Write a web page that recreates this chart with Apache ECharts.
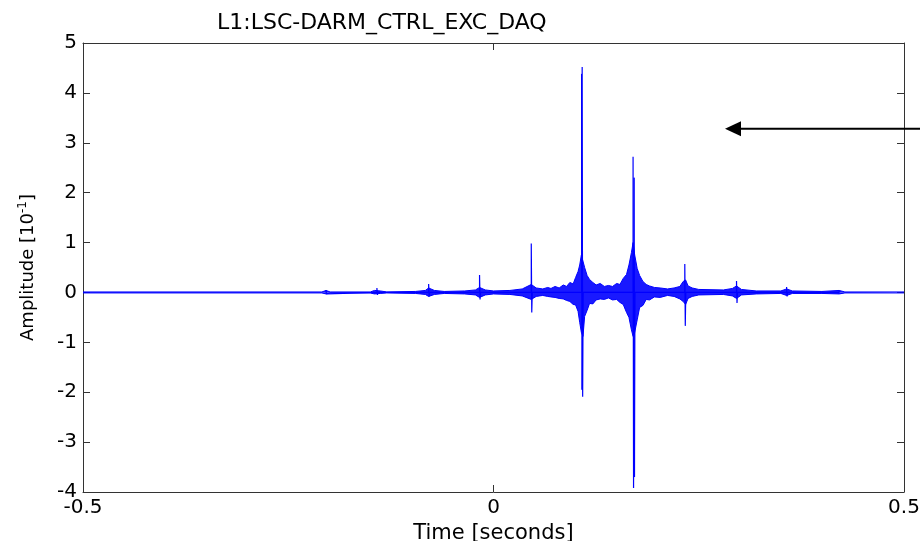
<!DOCTYPE html>
<html>
<head>
<meta charset="utf-8">
<script src="https://cdn.jsdelivr.net/npm/echarts@6/dist/echarts.min.js"></script>
<style>
  html, body { margin: 0; padding: 0; background: #fff; }
  #chart { width: 920px; height: 541px; }
</style>
</head>
<body>
<div id="chart"></div>
<script>
// signal envelope (noise band around zero), time in seconds, amplitude in 10^-1
const envT  = [-0.5, -0.209, -0.204, -0.199, -0.150, -0.145, -0.138, -0.130, -0.095, -0.083, -0.079, -0.072, -0.060, -0.035, -0.022, -0.017, -0.010, 0.000, 0.020, 0.035, 0.046, 0.052,
  0.060, 0.066, 0.070, 0.075, 0.080, 0.085, 0.089, 0.093, 0.097, 0.100, 0.103, 0.105, 0.107, 0.109, 0.111, 0.114, 0.117, 0.121, 0.125, 0.130, 0.135, 0.140, 0.145, 0.150, 0.154, 0.158,
  0.162, 0.165, 0.168, 0.170, 0.172, 0.175, 0.178, 0.182, 0.186, 0.190, 0.196, 0.203, 0.212, 0.220, 0.227, 0.231, 0.234, 0.237, 0.242, 0.250,
  0.280, 0.291, 0.296, 0.302, 0.320, 0.350, 0.357, 0.364, 0.400, 0.421, 0.428, 0.5];
const envHi = [0.01, 0.01, 0.04, 0.01, 0.01, 0.04, 0.03, 0.01, 0.02, 0.04, 0.09, 0.04, 0.02, 0.03, 0.05, 0.10, 0.05, 0.03, 0.04, 0.07, 0.16, 0.09,
  0.07, 0.10, 0.08, 0.12, 0.09, 0.15, 0.12, 0.20, 0.17, 0.30, 0.42, 0.55, 0.75, 0.72, 0.50, 0.34, 0.26, 0.20, 0.15, 0.18, 0.12, 0.14, 0.12, 0.18, 0.16, 0.28,
  0.36, 0.55, 0.80, 1.00, 0.75, 0.48, 0.34, 0.22, 0.16, 0.13, 0.10, 0.09, 0.07, 0.09, 0.12, 0.22, 0.25, 0.13, 0.09, 0.06,
  0.05, 0.08, 0.13, 0.06, 0.03, 0.03, 0.07, 0.03, 0.02, 0.04, 0.01, 0.01];
const envLo = [-0.01, -0.01, -0.03, -0.01, -0.01, -0.03, -0.02, -0.01, -0.02, -0.04, -0.08, -0.04, -0.02, -0.03, -0.05, -0.10, -0.05, -0.03, -0.04, -0.07, -0.14, -0.08,
  -0.06, -0.08, -0.09, -0.10, -0.12, -0.13, -0.16, -0.18, -0.24, -0.25, -0.38, -0.60, -0.80, -0.88, -0.48, -0.36, -0.22, -0.23, -0.15, -0.13, -0.14, -0.11, -0.15, -0.14, -0.20, -0.24,
  -0.40, -0.50, -0.75, -0.88, -0.80, -0.55, -0.30, -0.26, -0.14, -0.15, -0.09, -0.10, -0.06, -0.08, -0.13, -0.18, -0.24, -0.12, -0.08, -0.05,
  -0.04, -0.07, -0.12, -0.05, -0.03, -0.02, -0.06, -0.02, -0.02, -0.03, -0.01, -0.01];

// injection spikes
const spikeT  = [-0.204, -0.142, -0.079, -0.017, 0.046, 0.108, 0.170, 0.233, 0.296, 0.357, 0.421];
const spikeHi = [0.05, 0.09, 0.17, 0.35, 0.98, 4.52, 2.72, 0.57, 0.23, 0.11, 0.04];
const spikeLo = [-0.03, -0.05, -0.08, -0.14, -0.40, -2.09, -3.92, -0.67, -0.21, -0.08, -0.03];

// neighbouring samples of the two big spikes
const spike2T  = [0.1072, 0.1712];
const spike2Hi = [4.38, 2.30];
const spike2Lo = [-1.95, -3.70];

const xTicks = [-0.5, 0, 0.5];
const yTicks = [-4, -3, -2, -1, 0, 1, 2, 3, 4, 5];

// arrow annotation (data coords)
const arrowFrom = [0.5195, 3.28];
const arrowTo = [0.282, 3.28];

const BLUE = "#0000ff";
const FONT = "DejaVu Sans";

const envUpper = envT.map((t, i) => [t, envHi[i]]);
const envLower = envT.map((t, i) => [t, envLo[i]]);

const spikeLine = (ts, his, los) => {
  const out = [];
  ts.forEach((t, i) => {
    out.push([t, 0], [t, his[i]], [t + 0.0006, los[i]], [t + 0.0012, 0]);
  });
  return out;
};

const chart = echarts.init(document.getElementById("chart"));

const axisCommon = {
  type: "value",
  axisLine: { show: true, onZero: false, lineStyle: { color: "#333", width: 1 } },
  axisTick: { show: true, inside: true, length: 7, lineStyle: { color: "#333" } },
  splitLine: { show: false },
};

let options = {
  animation: false,
  backgroundColor: "#fff",
  title: {
    text: "L1:LSC-DARM_CTRL_EXC_DAQ",
    left: 212,
    top: 7,
    textStyle: { fontFamily: FONT, fontSize: 22, fontWeight: "normal", color: "#000" },
  },
  grid: {
    left: 83,
    right: 16,
    top: 43,
    bottom: 49,
    containLabel: false,
    outerBoundsMode: "none",
  },
  xAxis: [
    {
      ...axisCommon,
      position: "bottom",
      min: xTicks[0],
      max: xTicks[xTicks.length - 1],
      interval: 0.5,
      axisLabel: { fontFamily: FONT, fontSize: 20, color: "#000", margin: 6 },
      name: "Time [seconds]",
      nameLocation: "middle",
      nameGap: 26,
      nameTextStyle: { fontFamily: FONT, fontSize: 21, color: "#000" },
    },
    {
      ...axisCommon,
      position: "top",
      min: xTicks[0],
      max: xTicks[xTicks.length - 1],
      interval: 0.5,
      axisLabel: { show: false },
    },
  ],
  yAxis: [
    {
      ...axisCommon,
      position: "left",
      min: yTicks[0],
      max: yTicks[yTicks.length - 1],
      interval: 1,
      axisLabel: { fontFamily: FONT, fontSize: 20, color: "#000", margin: 6 },
      name: "{a|Amplitude [10}{s|-1}{a|]}",
      nameLocation: "middle",
      nameRotate: 90,
      nameGap: 44,
      nameTextStyle: {
        rich: {
          a: { fontFamily: FONT, fontSize: 18, color: "#000", lineHeight: 22 },
          s: { fontFamily: FONT, fontSize: 12, color: "#000", verticalAlign: "top", lineHeight: 22, padding: [0, 0, 8, 0] },
        },
      },
    },
    {
      ...axisCommon,
      position: "right",
      min: yTicks[0],
      max: yTicks[yTicks.length - 1],
      interval: 1,
      axisLabel: { show: false },
    },
  ],
  series: [
    {
      name: "upper",
      type: "line",
      data: envUpper,
      showSymbol: false,
      lineStyle: { color: BLUE, width: 1 },
      areaStyle: { color: BLUE, opacity: 0.9 },
      z: 2,
    },
    {
      name: "lower",
      type: "line",
      data: envLower,
      showSymbol: false,
      lineStyle: { color: BLUE, width: 1 },
      areaStyle: { color: BLUE, opacity: 0.9 },
      z: 2,
    },
    {
      name: "spikes",
      type: "line",
      data: spikeLine(spikeT, spikeHi, spikeLo),
      showSymbol: false,
      lineStyle: { color: BLUE, width: 1.2 },
      z: 3,
    },
    {
      name: "spikes2",
      type: "line",
      data: spikeLine(spike2T, spike2Hi, spike2Lo),
      showSymbol: false,
      lineStyle: { color: BLUE, width: 1 },
      z: 3,
    },
  ],
};

chart.setOption(options);

// arrow placed through the axis scales
const p1 = chart.convertToPixel({ xAxisIndex: 0, yAxisIndex: 0 }, arrowFrom);
const p2 = chart.convertToPixel({ xAxisIndex: 0, yAxisIndex: 0 }, arrowTo);
chart.setOption({
  graphic: [
    {
      type: "line",
      shape: { x1: p1[0], y1: p1[1], x2: p2[0] + 12, y2: p2[1] },
      style: { stroke: "#000", lineWidth: 2 },
      z: 10,
    },
    {
      type: "polygon",
      shape: { points: [[p2[0], p2[1]], [p2[0] + 16, p2[1] - 7.5], [p2[0] + 16, p2[1] + 7.5]] },
      style: { fill: "#000" },
      z: 10,
    },
  ],
});
</script>
</body>
</html>
